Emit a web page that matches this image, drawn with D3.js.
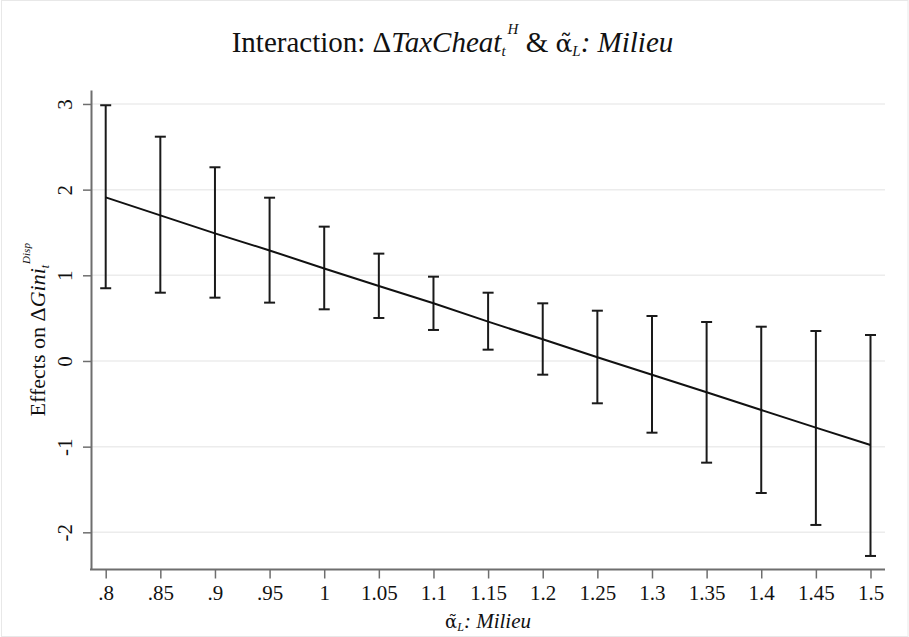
<!DOCTYPE html>
<html>
<head>
<meta charset="utf-8">
<script src="https://cdn.jsdelivr.net/npm/d3@7"></script>
<style>
  body { margin: 0; background: #fff; }
  svg text { font-family: "Liberation Serif", "Times New Roman", "DejaVu Serif", serif; fill: #111; }
</style>
</head>
<body>
<script>
const WIDTH = 909;
const HEIGHT = 637;
const SERIF = "'Liberation Serif', 'Times New Roman', serif";

// plot region (pixels)
const PLOT = {LEFT: 91, RIGHT: 885, TOP: 90, BOTTOM: 569.5};

// values of the moderator (x) and the marginal effects with their CI
const xValues = [0.8, 0.85, 0.9, 0.95, 1, 1.05, 1.1, 1.15, 1.2, 1.25, 1.3, 1.35, 1.4, 1.45, 1.5];
const estimate = [1.91, 1.70, 1.49, 1.29, 1.08, 0.875, 0.673, 0.459, 0.253, 0.043, -0.160, -0.365, -0.572, -0.778, -0.981];
const upperCI = [2.985, 2.618, 2.261, 1.906, 1.568, 1.253, 0.984, 0.797, 0.673, 0.587, 0.525, 0.455, 0.400, 0.350, 0.303];
const lowerCI = [0.849, 0.797, 0.739, 0.681, 0.603, 0.502, 0.362, 0.132, -0.160, -0.494, -0.837, -1.187, -1.541, -1.914, -2.276];

const xTickLabels = [".8", ".85", ".9", ".95", "1", "1.05", "1.1", "1.15", "1.2", "1.25", "1.3", "1.35", "1.4", "1.45", "1.5"];
const yTicks = [-2, -1, 0, 1, 2, 3];

var svg = d3.select("body").append("svg")
    .attr("width", WIDTH)
    .attr("height", HEIGHT)
    .style("font-family", SERIF);

// faint frame round the whole picture
svg.append("rect")
    .attr("x", 1.5).attr("y", 0.5)
    .attr("width", WIDTH - 2.5).attr("height", HEIGHT - 1)
    .attr("fill", "none")
    .attr("stroke", "#e8e8e8");

var xScale = d3.scaleLinear()
    .domain([0.8, 1.5])
    .range([105.7, 870.5]);

var yScale = d3.scaleLinear()
    .domain([-2.434, 3.163])
    .range([PLOT.BOTTOM, PLOT.TOP]);

// horizontal grid lines
svg.append("g")
    .selectAll("line")
    .data(yTicks)
    .enter().append("line")
        .attr("x1", PLOT.LEFT)
        .attr("x2", PLOT.RIGHT)
        .attr("y1", d => yScale(d))
        .attr("y2", d => yScale(d))
        .attr("stroke", "#ececec")
        .attr("stroke-width", 1.5);

// y axis (stata style: labels turned on their side, plain hyphen for minus)
var yAxis = d3.axisLeft(yScale)
    .tickValues(yTicks)
    .tickSize(8)
    .tickSizeOuter(0)
    .tickPadding(0)
    .tickFormat(d => String(d));

var gy = svg.append("g")
    .attr("transform", "translate(" + PLOT.LEFT + ",0)")
    .call(yAxis);
gy.attr("font-family", null);
gy.select(".domain").attr("stroke", "#6e6e6e").attr("stroke-width", 2);
gy.selectAll(".tick line").attr("stroke", "#6e6e6e").attr("stroke-width", 1.5);
gy.selectAll(".tick text")
    .attr("x", null).attr("dy", null)
    .attr("text-anchor", "middle")
    .attr("transform", "translate(-19,0) rotate(-90)")
    .style("font-family", SERIF)
    .style("font-size", "21px")
    .style("fill", "#111");

// x axis (line drawn by hand so it runs across the whole plot region)
svg.append("line")
    .attr("x1", PLOT.LEFT - 1).attr("x2", PLOT.RIGHT)
    .attr("y1", PLOT.BOTTOM).attr("y2", PLOT.BOTTOM)
    .attr("stroke", "#6e6e6e").attr("stroke-width", 2);

var xAxis = d3.axisBottom(xScale)
    .tickValues(xValues)
    .tickSize(9)
    .tickSizeOuter(0)
    .tickPadding(7)
    .tickFormat((d, i) => xTickLabels[i]);

var gx = svg.append("g")
    .attr("transform", "translate(0," + PLOT.BOTTOM + ")")
    .call(xAxis);
gx.attr("font-family", null);
gx.select(".domain").remove();
gx.selectAll(".tick line").attr("stroke", "#6e6e6e").attr("stroke-width", 1.5);
gx.selectAll(".tick text")
    .style("font-family", SERIF)
    .style("font-size", "21px")
    .style("fill", "#111");

// error bars
var bars = svg.append("g")
    .selectAll("g")
    .data(xValues)
    .enter().append("g")
        .attr("stroke", "#1a1a1a")
        .attr("stroke-width", 2);

bars.append("line")
    .attr("x1", d => xScale(d)).attr("x2", d => xScale(d))
    .attr("y1", (d, i) => yScale(upperCI[i]))
    .attr("y2", (d, i) => yScale(lowerCI[i]));

bars.append("line")
    .attr("x1", d => xScale(d) - 5.5).attr("x2", d => xScale(d) + 5.5)
    .attr("y1", (d, i) => yScale(upperCI[i]))
    .attr("y2", (d, i) => yScale(upperCI[i]));

bars.append("line")
    .attr("x1", d => xScale(d) - 5.5).attr("x2", d => xScale(d) + 5.5)
    .attr("y1", (d, i) => yScale(lowerCI[i]))
    .attr("y2", (d, i) => yScale(lowerCI[i]));

// estimated effect line
var line = d3.line()
    .x(d => xScale(d))
    .y((d, i) => yScale(estimate[i]));

svg.append("path")
    .datum(xValues)
    .attr("d", line)
    .attr("fill", "none")
    .attr("stroke", "#111")
    .attr("stroke-width", 2);

// alpha with combining tilde; DejaVu Serif places the mark over the base
function alphaTilde(textSel, fontSize) {
    textSel.append("tspan")
        .style("font-family", "'DejaVu Serif', serif")
        .style("font-size", fontSize + "px")
        .text("\u03b1\u0303");
}

// title
var title = svg.append("text")
    .attr("x", WIDTH / 2 - 2)
    .attr("y", 52)
    .attr("text-anchor", "middle")
    .style("font-size", "29px");
title.append("tspan").text("Interaction: \u0394");
title.append("tspan").style("font-style", "italic").text("TaxCheat");
title.append("tspan").style("font-style", "italic").style("font-size", "15px").attr("dy", 4).text("t");
title.append("tspan").style("font-style", "italic").style("font-size", "15px").attr("dy", -22).attr("dx", 2).text("H");
title.append("tspan").attr("dy", 18).text(" & ");
alphaTilde(title, 25);
title.append("tspan").style("font-style", "italic").style("font-size", "15px")
    .attr("dy", 4).text("L");
title.append("tspan").style("font-style", "italic").attr("dy", -4).text(": Milieu");

// y axis title
var yTitle = svg.append("text")
    .attr("transform", "translate(45," + ((PLOT.TOP + PLOT.BOTTOM) / 2) + ") rotate(-90)")
    .attr("text-anchor", "middle")
    .style("font-size", "22px");
yTitle.append("tspan").text("Effects on \u0394");
yTitle.append("tspan").style("font-style", "italic").text("Gini");
yTitle.append("tspan").style("font-style", "italic").style("font-size", "12px").attr("dy", 4).text("t");
yTitle.append("tspan").style("font-style", "italic").style("font-size", "11px").attr("dy", -19).attr("dx", 1).text("Disp");

// x axis title
var xTitle = svg.append("text")
    .attr("x", (PLOT.LEFT + PLOT.RIGHT) / 2)
    .attr("y", 628)
    .attr("text-anchor", "middle")
    .style("font-size", "21px");
alphaTilde(xTitle, 18);
xTitle.append("tspan").style("font-style", "italic").style("font-size", "12px")
    .attr("dy", 3).text("L");
xTitle.append("tspan").style("font-style", "italic").attr("dy", -3).text(": Milieu");
</script>
</body>
</html>
